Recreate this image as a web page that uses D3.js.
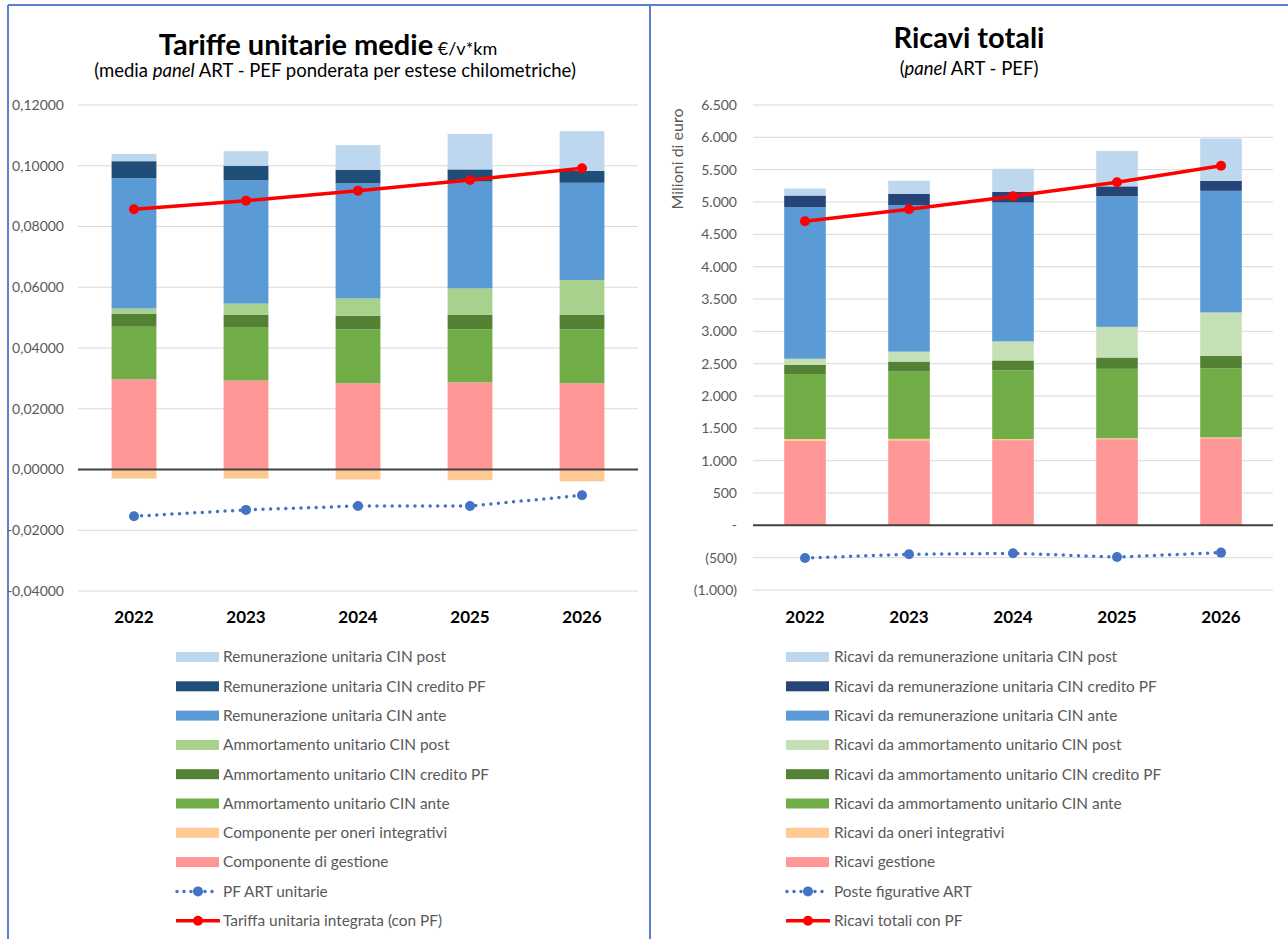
<!DOCTYPE html>
<html>
<head>
<meta charset="utf-8">
<script src="https://cdn.jsdelivr.net/npm/d3@7"></script>
<style>
  html, body { margin: 0; padding: 0; background: #fff; }
  svg { display: block; font-family: Lato, "Noto Sans", sans-serif; }
</style>
</head>
<body>
<svg id="chart" width="1288" height="939"></svg>
<script>
// ---- shared categories ----
const years = ["2022", "2023", "2024", "2025", "2026"];

// ---- left panel: unit tariffs (€/v*km) ----
const tarGestione      = [0.0297, 0.0293, 0.0284, 0.0287, 0.0284];
const tarOneri         = [-0.0030, -0.0030, -0.0033, -0.0035, -0.0039];
const tarAmmAnte       = [0.0173, 0.0176, 0.0177, 0.0175, 0.0177];
const tarAmmCredito    = [0.0042, 0.0041, 0.0045, 0.0048, 0.0049];
const tarAmmPost       = [0.0018, 0.0036, 0.0057, 0.0086, 0.0114];
const tarRemAnte       = [0.0429, 0.0406, 0.0379, 0.0352, 0.0320];
const tarRemCredito    = [0.0056, 0.0048, 0.0045, 0.0040, 0.0039];
const tarRemPost       = [0.0024, 0.0048, 0.0081, 0.0117, 0.0131];
const tarPF            = [-0.0154, -0.0133, -0.0120, -0.0120, -0.0085];
const tarIntegrata     = [0.0857, 0.0885, 0.0918, 0.0953, 0.0992];
const tarTicks         = [0.12, 0.10, 0.08, 0.06, 0.04, 0.02, 0, -0.02, -0.04];

// ---- right panel: total revenues (million €) ----
const ricGestione      = [1305, 1315, 1318, 1332, 1348];
const ricOneri         = [30, 22, 16, 15, 12];
const ricAmmAnte       = [1005, 1040, 1062, 1073, 1067];
const ricAmmCredito    = [143, 155, 154, 175, 196];
const ricAmmPost       = [93, 154, 294, 474, 669];
const ricRemAnte       = [2345, 2268, 2148, 2019, 1881];
const ricRemCredito    = [179, 174, 166, 154, 155];
const ricRemPost       = [108, 201, 355, 547, 653];
const ricPF            = [-505, -448, -433, -490, -422];
const ricTotali        = [4703, 4889, 5090, 5306, 5560];
const ricTicks         = [6500, 6000, 5500, 5000, 4500, 4000, 3500, 3000, 2500, 2000, 1500, 1000, 500, 0, -500, -1000];

// ---- series labels ----
const tarLabels = {
  remPost: "Remunerazione unitaria CIN post",
  remCredito: "Remunerazione unitaria CIN credito PF",
  remAnte: "Remunerazione unitaria CIN ante",
  ammPost: "Ammortamento unitario CIN post",
  ammCredito: "Ammortamento unitario CIN credito PF",
  ammAnte: "Ammortamento unitario CIN ante",
  oneri: "Componente per oneri integrativi",
  gestione: "Componente di gestione",
  pf: "PF ART unitarie",
  total: "Tariffa unitaria integrata (con PF)"
};
const ricLabels = {
  remPost: "Ricavi da remunerazione unitaria CIN post",
  remCredito: "Ricavi da remunerazione unitaria CIN credito PF",
  remAnte: "Ricavi da remunerazione unitaria CIN ante",
  ammPost: "Ricavi da ammortamento unitario CIN post",
  ammCredito: "Ricavi da ammortamento unitario CIN credito PF",
  ammAnte: "Ricavi da ammortamento unitario CIN ante",
  oneri: "Ricavi da oneri integrativi",
  gestione: "Ricavi gestione",
  pf: "Poste figurative ART",
  total: "Ricavi totali con PF"
};

const stackKeys = ["gestione", "oneri", "ammAnte", "ammCredito", "ammPost", "remAnte", "remCredito", "remPost"];
const legendKeys = ["remPost", "remCredito", "remAnte", "ammPost", "ammCredito", "ammAnte", "oneri", "gestione"];

const svg = d3.select("#chart");

// panel frames
const frame = svg.append("g").attr("fill", "none").attr("stroke", "#5B80CC").attr("stroke-width", 2);
frame.append("line").attr("x1", 8).attr("x2", 1288).attr("y1", 5).attr("y2", 5);
frame.append("line").attr("x1", 8).attr("x2", 8).attr("y1", 5).attr("y2", 939);
frame.append("line").attr("x1", 650).attr("x2", 650).attr("y1", 5).attr("y2", 939);

function drawPanel(cfg) {
  const g = svg.append("g");
  const rows = years.map((yr, i) => {
    const r = { year: yr };
    stackKeys.forEach(k => r[k] = cfg.series[k][i]);
    return r;
  });
  const stacked = d3.stack().keys(stackKeys).offset(d3.stackOffsetDiverging)(rows);

  const x = d3.scaleBand().domain(years).range([cfg.x0, cfg.x1]).paddingInner(0.6).paddingOuter(0.3);
  const y = d3.scaleLinear().domain(cfg.domain).range([cfg.yBottom, cfg.yTop]);

  // gridlines
  g.append("g").selectAll("line").data(cfg.ticks).join("line")
    .attr("x1", cfg.x0).attr("x2", cfg.x1)
    .attr("y1", d => y(d)).attr("y2", d => y(d))
    .attr("stroke", "#D9D9D9").attr("stroke-width", 1);

  // value axis
  const yAxis = d3.axisLeft(y).tickValues(cfg.ticks).tickFormat(cfg.fmt).tickSize(0).tickPadding(0);
  const ya = g.append("g").attr("transform", `translate(${cfg.labelX},0)`).call(yAxis);
  ya.select(".domain").remove();
  ya.selectAll("text").attr("fill", "#595959").attr("font-size", 14).attr("font-family", "Lato, sans-serif");

  // stacked bars
  g.append("g").selectAll("g").data(stacked).join("g")
    .attr("fill", d => cfg.colors[d.key])
    .selectAll("rect").data(d => d).join("rect")
    .attr("x", d => x(d.data.year))
    .attr("width", x.bandwidth())
    .attr("y", d => y(Math.max(d[0], d[1])))
    .attr("height", d => Math.abs(y(d[0]) - y(d[1])));

  // zero line
  g.append("line").attr("x1", cfg.x0).attr("x2", cfg.x1)
    .attr("y1", y(0)).attr("y2", y(0))
    .attr("stroke", "#404040").attr("stroke-width", 2);

  // category axis
  const xAxis = d3.axisBottom(x).tickSize(0).tickPadding(0);
  const xa = g.append("g").attr("transform", `translate(0,${cfg.yearY})`).call(xAxis);
  xa.select(".domain").remove();
  xa.selectAll("text").attr("fill", "#000").attr("font-size", 17).attr("font-weight", "bold")
    .attr("font-family", "Lato, sans-serif").attr("dy", 0);

  const cx = d => x(d) + x.bandwidth() / 2;

  // figurative items (dotted line)
  const pfLine = d3.line().x((d, i) => cx(years[i])).y(d => y(d));
  g.append("path").datum(cfg.pf).attr("d", pfLine)
    .attr("fill", "none").attr("stroke", "#4472C4").attr("stroke-width", 3.5)
    .attr("stroke-linecap", "round").attr("stroke-dasharray", "0 7.6");
  g.append("g").selectAll("circle").data(cfg.pf).join("circle")
    .attr("cx", (d, i) => cx(years[i])).attr("cy", d => y(d)).attr("r", 5)
    .attr("fill", "#4472C4");

  // total line
  g.append("path").datum(cfg.total).attr("d", pfLine)
    .attr("fill", "none").attr("stroke", "#FF0000").attr("stroke-width", 3.5);
  g.append("g").selectAll("circle").data(cfg.total).join("circle")
    .attr("cx", (d, i) => cx(years[i])).attr("cy", d => y(d)).attr("r", 5)
    .attr("fill", "#FF0000");

  // titles
  const t = g.append("text").attr("x", cfg.titleX).attr("y", cfg.titleY).attr("text-anchor", "middle").attr("fill", "#000");
  t.append("tspan").attr("font-size", 29).attr("font-weight", "bold").text(cfg.title);
  if (cfg.titleUnit) t.append("tspan").attr("font-size", 18).text(" " + cfg.titleUnit);
  const st = g.append("text").attr("x", cfg.subX).attr("y", cfg.subY).attr("text-anchor", "middle")
    .attr("fill", "#000").attr("font-size", 18.5);
  cfg.subtitle.forEach(part => {
    st.append("tspan").attr("font-style", part.italic ? "italic" : "normal").text(part.text);
  });

  if (cfg.axisTitle) {
    g.append("text").attr("transform", `translate(${cfg.axisTitle.x},${cfg.axisTitle.y}) rotate(-90)`)
      .attr("text-anchor", "middle").attr("fill", "#595959").attr("font-size", 16).text(cfg.axisTitle.text);
  }

  // legend
  const lg = g.append("g").attr("transform", `translate(${cfg.legendX},0)`);
  const legendItems = legendKeys.map(k => ({ key: k, type: "bar" }))
    .concat([{ key: "pf", type: "dot" }, { key: "total", type: "line" }]);
  legendItems.forEach((it, i) => {
    const yy = cfg.legendY + i * 29.3;
    if (it.type === "bar") {
      lg.append("rect").attr("x", 0).attr("y", yy - 5).attr("width", 43).attr("height", 10).attr("fill", cfg.colors[it.key]);
    } else if (it.type === "dot") {
      lg.append("line").attr("x1", 1).attr("x2", 43).attr("y1", yy).attr("y2", yy)
        .attr("stroke", "#4472C4").attr("stroke-width", 3.5).attr("stroke-linecap", "round").attr("stroke-dasharray", "0 7");
      lg.append("circle").attr("cx", 22).attr("cy", yy).attr("r", 5).attr("fill", "#4472C4");
    } else {
      lg.append("line").attr("x1", 0).attr("x2", 44).attr("y1", yy).attr("y2", yy)
        .attr("stroke", "#FF0000").attr("stroke-width", 3.5);
      lg.append("circle").attr("cx", 22).attr("cy", yy).attr("r", 5).attr("fill", "#FF0000");
    }
    lg.append("text").attr("x", cfg.legendTextDx).attr("y", yy).attr("dy", "0.35em")
      .attr("fill", "#595959").attr("font-size", 15.4).text(cfg.labels[it.key]);
  });
}

const fmtTar = d => d3.format(".5f")(d).replace(".", ",").replace("−", "-");
const itNum = d3.formatLocale({ decimal: ",", thousands: ".", grouping: [3], currency: ["€", ""] }).format(",.0f");
const fmtRic = d => d === 0 ? "-" : d < 0 ? "(" + itNum(-d) + ")" : itNum(d);

drawPanel({
  series: { gestione: tarGestione, oneri: tarOneri, ammAnte: tarAmmAnte, ammCredito: tarAmmCredito,
            ammPost: tarAmmPost, remAnte: tarRemAnte, remCredito: tarRemCredito, remPost: tarRemPost },
  pf: tarPF, total: tarIntegrata,
  colors: { remPost: "#BDD7EE", remCredito: "#1F4E79", remAnte: "#5B9BD5", ammPost: "#A9D18E",
            ammCredito: "#548235", ammAnte: "#70AD47", oneri: "#FFC994", gestione: "#FF9797" },
  labels: tarLabels,
  domain: [-0.04, 0.12], ticks: tarTicks, fmt: fmtTar,
  x0: 78, x1: 638, yTop: 105, yBottom: 591, labelX: 64, yearY: 623,
  title: "Tariffe unitarie medie", titleUnit: "€/v*km", titleX: 328, titleY: 55,
  subtitle: [{ text: "(media " }, { text: "panel", italic: true }, { text: " ART - PEF ponderata per estese chilometriche)" }],
  subX: 335, subY: 77,
  legendX: 176, legendY: 657, legendTextDx: 47
});

drawPanel({
  series: { gestione: ricGestione, oneri: ricOneri, ammAnte: ricAmmAnte, ammCredito: ricAmmCredito,
            ammPost: ricAmmPost, remAnte: ricRemAnte, remCredito: ricRemCredito, remPost: ricRemPost },
  pf: ricPF, total: ricTotali,
  colors: { remPost: "#BDD7EE", remCredito: "#264478", remAnte: "#5B9BD5", ammPost: "#C5E0B4",
            ammCredito: "#548235", ammAnte: "#70AD47", oneri: "#FFC994", gestione: "#FF9797" },
  labels: ricLabels,
  domain: [-1000, 6500], ticks: ricTicks, fmt: fmtRic,
  x0: 753, x1: 1273, yTop: 105, yBottom: 590, labelX: 737, yearY: 623,
  title: "Ricavi totali", titleX: 969, titleY: 48,
  subtitle: [{ text: "(" }, { text: "panel", italic: true }, { text: " ART - PEF)" }],
  subX: 969, subY: 75,
  axisTitle: { text: "Milioni di euro", x: 683, y: 159 },
  legendX: 786, legendY: 657, legendTextDx: 48
});
</script>
</body>
</html>
